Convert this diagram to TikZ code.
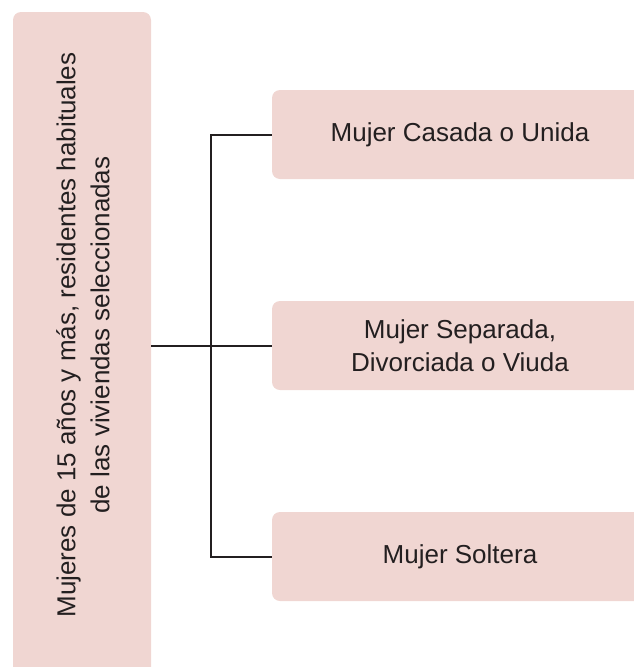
\documentclass[tikz,border=0pt]{standalone}
\usepackage{fontspec}
\setmainfont{Liberation Sans}
\definecolor{boxpink}{RGB}{240,214,210}
\definecolor{ink}{RGB}{35,31,32}
\begin{document}
\begin{tikzpicture}[x=1pt,y=-1pt,
  box/.style={fill=boxpink, draw=none, rounded corners=8pt, inner sep=0pt},
  rbox/.style={box, minimum width=376pt, minimum height=89pt, align=center,
    text=ink, font=\fontsize{26}{33}\selectfont},
  link/.style={draw=ink, line width=2pt}]
\clip (0,0) rectangle (634,667);
\node[box, minimum width=138pt, minimum height=668pt] (L) at (82,346) {};
\node[rotate=90, align=center, text=ink, inner sep=0pt,
  font=\fontsize{26}{34}\selectfont] (Lt) at (83,335)
  {Mujeres de 15 años y más, residentes habituales\\de las viviendas seleccionadas};
\node[rbox] (b1) at (460,134.5) {Mujer Casada o Unida};
\node[rbox] (b2) at (460,345.5) {Mujer Separada,\\Divorciada o Viuda};
\node[rbox] (b3) at (460,556.5) {Mujer Soltera};
\draw[link] (L.east |- b2.west) -- (b2.west);
\draw[link] (b1.west) -- ++(-61,0) |- (b3.west);
\end{tikzpicture}
\end{document}
